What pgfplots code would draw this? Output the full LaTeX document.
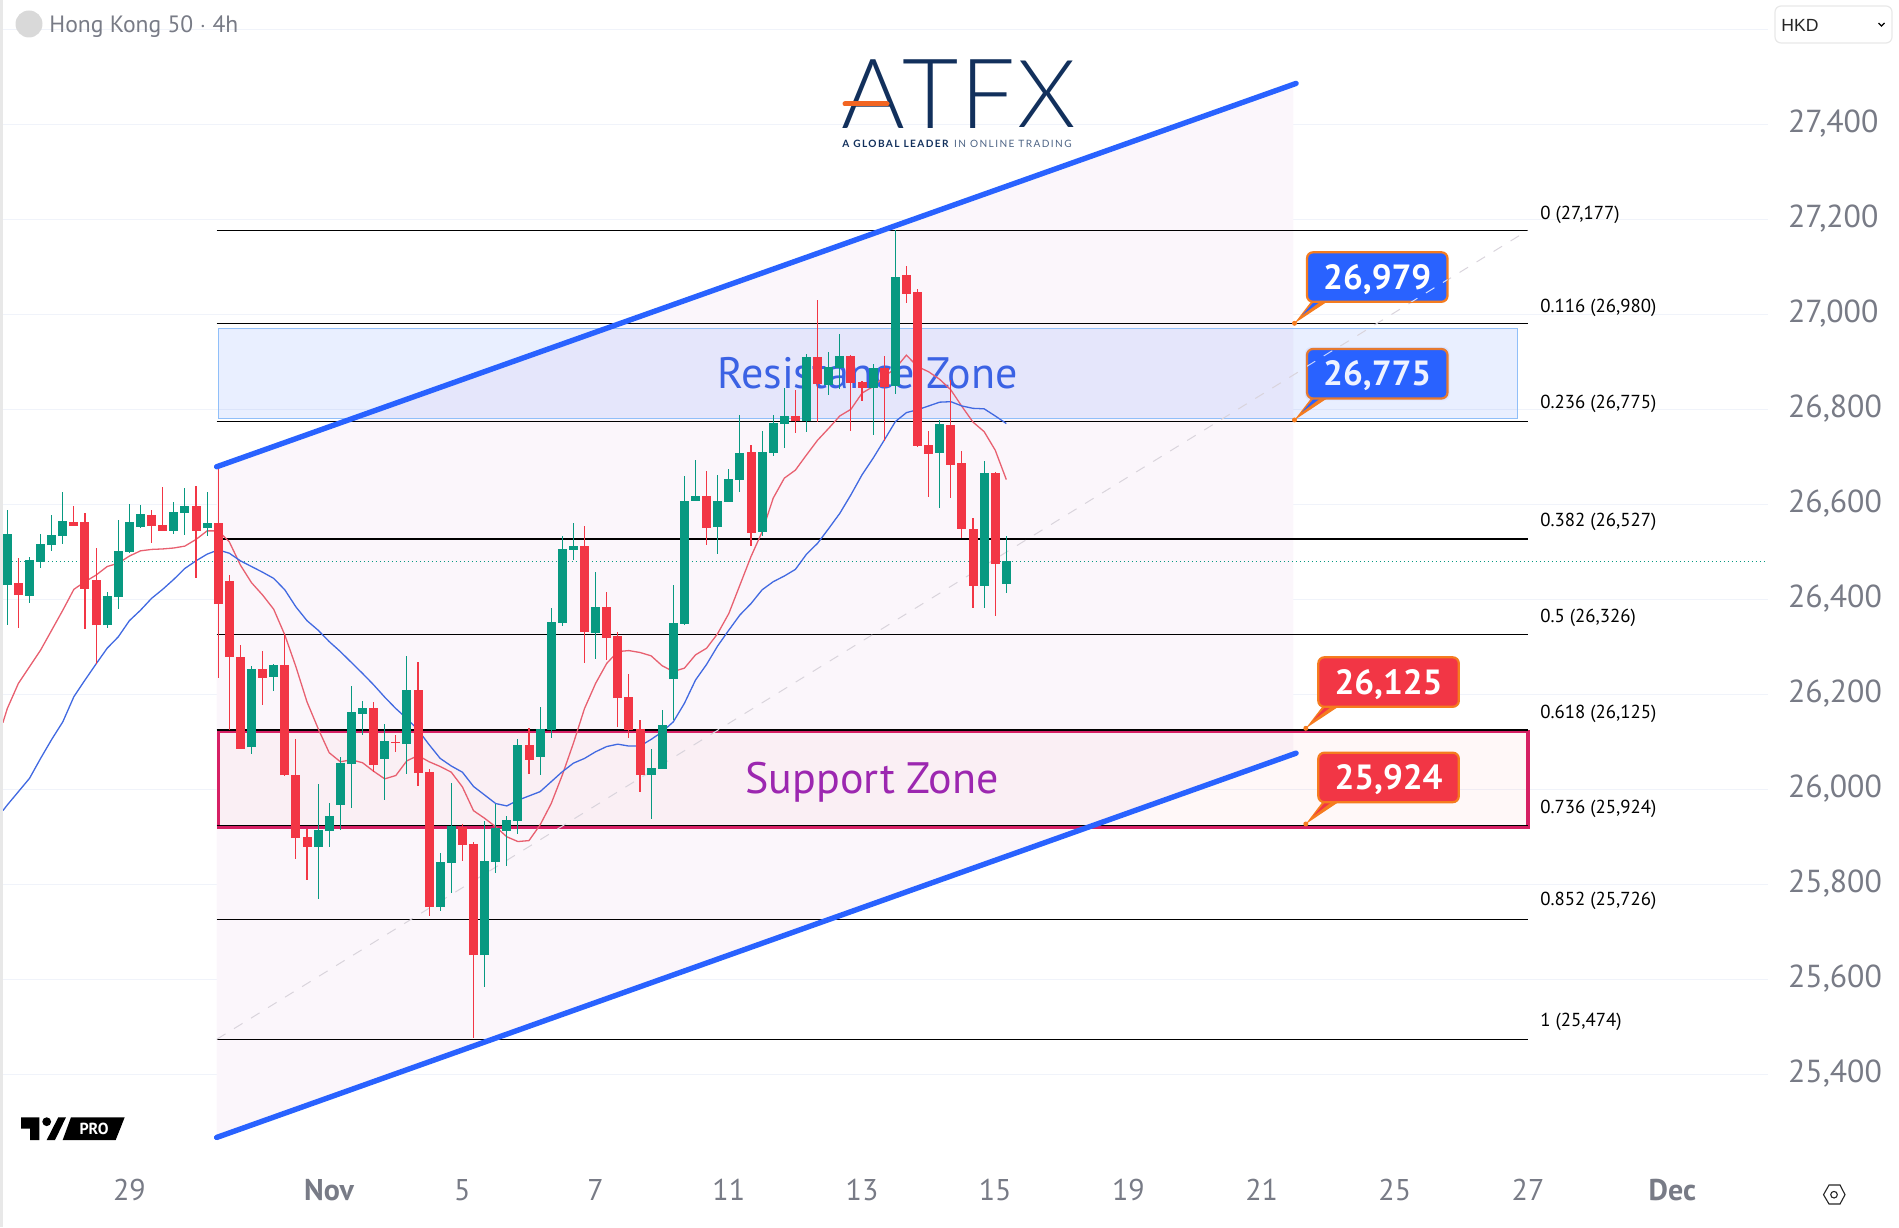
\documentclass[border=0pt]{standalone}
\usepackage{fontspec}
\usepackage{pgfplots}
\usepackage{pgfplotstable}
\pgfplotsset{compat=1.18}
\setmainfont{PT Sans}
\newfontfamily\logofont{Lato Light}
\newfontfamily\logosubfont[LetterSpace=14]{Lato}
\newfontfamily\uifont{Liberation Sans}
\definecolor{upc}{HTML}{089981}
\definecolor{downc}{HTML}{F23645}
\definecolor{gridc}{HTML}{F0F3FA}
\definecolor{txtc}{HTML}{787B86}
\definecolor{chan}{HTML}{2962FF}
\definecolor{navy}{HTML}{12305C}
\definecolor{orng}{HTML}{F57C1F}
\definecolor{logoor}{HTML}{F26522}
\definecolor{chfill}{HTML}{FBF6FB}
\definecolor{resline}{HTML}{90BFF9}
\definecolor{supline}{HTML}{D62064}
\definecolor{diag}{HTML}{D9D4DC}
\definecolor{mafastc}{HTML}{E86070}
\definecolor{maslowc}{HTML}{4169E1}
\definecolor{restxt}{HTML}{3B62E4}
\definecolor{suptxt}{HTML}{9C27B0}

\pgfplotstableread{
i o h l c
0 26430 26588 26345 26538
2 26407 26488 26393 26483
3 26479 26538 26465 26516
4 26514 26578 26502 26535
5 26533 26625 26516 26565
9 26345 26415 26340 26407
10 26405 26567 26380 26502
11 26500 26601 26498 26563
12 26552 26599 26550 26580
15 26544 26605 26538 26584
16 26582 26634 26535 26597
18 26550 26626 26533 26561
22 26088 26260 26075 26253
24 26237 26264 26206 26262
28 25879 26011 25769 25914
29 25912 25971 25879 25944
30 25967 26069 25914 26055
31 26053 26218 25961 26163
32 26159 26186 26114 26171
34 26064 26137 25977 26102
36 26095 26281 26032 26209
39 25752 25866 25744 25847
40 25845 26013 25781 25923
43 25651 25933 25584 25849
44 25847 25970 25824 25918
45 25912 25944 25839 25935
46 25933 26106 25906 26093
48 26068 26173 26030 26127
49 26125 26382 26108 26352
50 26350 26533 26344 26506
51 26504 26561 26483 26512
53 26329 26458 26274 26384
58 26030 26085 25937 26045
59 26043 26167 26043 26135
60 26232 26430 26146 26350
61 26348 26660 26346 26607
62 26607 26693 26607 26618
64 26552 26662 26495 26607
65 26605 26674 26605 26653
66 26651 26788 26626 26708
68 26542 26754 26533 26710
69 26708 26788 26702 26771
70 26769 26845 26719 26786
72 26775 26916 26752 26910
74 26851 26921 26830 26889
75 26887 26959 26843 26912
78 26845 26895 26746 26887
80 26849 27177 26832 27079
84 26708 26777 26592 26769
88 26428 26691 26382 26666
90 26432 26533 26413 26481
}\upbars

\pgfplotstableread{
i o h l c
1 26434 26486 26340 26409
6 26563 26597 26554 26554
7 26563 26582 26338 26422
8 26441 26509 26264 26345
13 26578 26588 26519 26554
14 26556 26637 26544 26544
17 26597 26639 26445 26544
19 26561 26679 26234 26390
20 26439 26451 26125 26279
21 26279 26304 26085 26085
23 26253 26291 26177 26235
25 26262 26327 26027 26030
26 26030 26106 25853 25897
27 25900 25916 25809 25879
33 26171 26184 26037 26051
35 26100 26114 26079 26097
37 26209 26268 26007 26034
38 26036 26042 25733 25752
41 25921 25927 25849 25883
42 25885 25889 25476 25651
47 26093 26129 26032 26062
52 26512 26554 26266 26331
54 26384 26415 26272 26319
55 26323 26331 26131 26192
56 26194 26243 26108 26125
57 26127 26146 25994 26030
63 26618 26670 26514 26550
67 26710 26725 26512 26540
71 26786 26841 26750 26775
73 26910 27030 26773 26853
76 26912 26914 26754 26855
77 26857 26860 26817 26845
79 26887 26912 26733 26847
81 27083 27102 27024 27043
82 27047 27053 26721 26723
83 26725 26754 26615 26706
85 26767 26862 26613 26683
86 26687 26712 26529 26548
87 26548 26571 26382 26428
89 26666 26668 26365 26474
}\downbars

\pgfplotstableread{
i v
-0.4 26140
0 26170
1 26223
2 26258
3 26293
4 26335
5 26377
6 26421
7 26437
8 26451
9 26469
10 26476
11 26491
12 26502
13 26505
14 26506
15 26508
16 26512
17 26526
18 26544
19 26544
20 26521
21 26472
22 26435
23 26409
24 26379
25 26325
26 26258
27 26184
28 26128
29 26077
30 26058
31 26062
32 26056
33 26038
34 26022
35 26029
36 26060
37 26071
38 26058
39 26048
40 26036
41 26005
42 25955
43 25939
44 25921
45 25900
46 25890
47 25892
48 25925
49 25970
50 26030
51 26097
52 26170
53 26223
54 26265
55 26290
56 26292
57 26288
58 26281
59 26260
60 26248
61 26255
62 26283
63 26297
64 26328
65 26370
66 26430
67 26490
68 26542
69 26613
70 26655
71 26672
72 26704
73 26735
74 26760
75 26786
76 26800
77 26834
78 26848
79 26869
80 26886
81 26914
82 26890
83 26879
84 26863
85 26841
86 26806
87 26773
88 26753
89 26714
90 26652
}\mafast

\pgfplotstableread{
i v
-0.4 25955
0 25967
1 25995
2 26023
3 26065
4 26105
5 26142
6 26195
7 26230
8 26264
9 26297
10 26321
11 26355
12 26377
13 26402
14 26421
15 26442
16 26465
17 26481
18 26495
19 26504
20 26497
21 26481
22 26469
23 26457
24 26444
25 26420
26 26384
27 26355
28 26335
29 26311
30 26290
31 26267
32 26244
33 26220
34 26194
35 26170
36 26149
37 26125
38 26094
39 26065
40 26049
41 26036
42 26006
43 25988
44 25970
45 25965
46 25977
47 25986
48 25995
49 26016
50 26037
51 26055
52 26065
53 26079
54 26090
55 26095
56 26091
57 26091
58 26105
59 26121
60 26142
61 26181
62 26230
63 26263
64 26302
65 26335
66 26367
67 26391
68 26420
69 26437
70 26449
71 26463
72 26495
73 26518
74 26549
75 26581
76 26620
77 26662
78 26697
79 26735
80 26774
81 26793
82 26799
83 26807
84 26815
85 26816
86 26807
87 26802
88 26801
89 26786
90 26770
}\maslow

\begin{document}
\begin{tikzpicture}
\useasboundingbox (0,0) rectangle (949.5pt,613.5pt);
\begin{axis}[
  at={(1.5pt,0pt)},anchor=south west,
  scale only axis,width=882.5pt,height=613.5pt,
  xmin=-0.387,xmax=158.62,ymin=25078.5,ymax=27661.7,
  axis line style={draw=none},
  major tick length=0pt,
  clip=false,
  scaled x ticks=false,scaled y ticks=false,
  ymajorgrids,
  grid style={gridc,line width=0.5pt},
  ytick={25400,25600,25800,26000,26200,26400,26600,26800,27000,27200,27400,27600},
  yticklabels={{25,400},{25,600},{25,800},{26,000},{26,200},{26,400},{26,600},{26,800},{27,000},{27,200},{27,400},{}},
  yticklabel pos=right,
  yticklabel style={anchor=west,xshift=6.5pt,yshift=0.3pt,font=\fontsize{15.9}{15.9}\selectfont,text=txtc},
  xtick={11,29,41,53,65,77,89,101,113,125,137,150},
  xticklabels={29,\textbf{Nov},5,7,11,13,15,19,21,25,27,\textbf{Dec}},
  xticklabel style={anchor=center,yshift=18.5pt,font=\fontsize{15}{15}\selectfont,text=txtc},
]
% channel fill
\addplot[draw=none,fill=chfill,forget plot] coordinates {(18.86,26679)(115.86,27484)(115.86,26074)(18.86,25267)} -- cycle;
% zones
\addplot[draw=resline,fill=chan,fill opacity=0.1,line width=0.5pt,forget plot] coordinates {(19,26970)(136.05,26970)(136.05,26781)(19,26781)} -- cycle;
\addplot[draw=none,fill=downc,fill opacity=0.035,forget plot] coordinates {(19.04,26122)(137,26122)(137,25920)(19.04,25920)} -- cycle;
\addplot[draw=supline,line width=1.7pt,forget plot] coordinates {(19.04,26122)(137,26122)(137,25920)(19.04,25920)} -- cycle;
% fib levels
\addplot[black,line width=0.6pt,forget plot] coordinates {(18.86,27177)(137,27177)};
\addplot[black,line width=0.6pt,forget plot] coordinates {(18.86,26980)(137,26980)};
\addplot[black,line width=0.6pt,forget plot] coordinates {(18.86,26775)(137,26775)};
\addplot[black,line width=0.6pt,forget plot] coordinates {(18.86,26527)(137,26527)};
\addplot[black,line width=0.6pt,forget plot] coordinates {(18.86,26326)(137,26326)};
\addplot[black,line width=0.6pt,forget plot] coordinates {(18.86,26125)(137,26125)};
\addplot[black,line width=0.6pt,forget plot] coordinates {(18.86,25924)(137,25924)};
\addplot[black,line width=0.6pt,forget plot] coordinates {(18.86,25726)(137,25726)};
\addplot[black,line width=0.6pt,forget plot] coordinates {(18.86,25474)(137,25474)};
% fib diagonal and last price
\addplot[draw=diag,line width=0.5pt,dash pattern=on 5pt off 5pt,forget plot] coordinates {(18.89,25474)(137,27177)};
\addplot[draw=upc,line width=0.5pt,dash pattern=on 0.6pt off 1.4pt,forget plot] coordinates {(-0.3,26480)(158.6,26480)};
% zone captions
\addplot[draw=none,forget plot] coordinates {(77.5,26875)} node[text=restxt,font=\fontsize{22}{22}\selectfont] {Resistance Zone};
\addplot[draw=none,forget plot] coordinates {(77.9,26014)} node[text=suptxt,font=\fontsize{22}{22}\selectfont] {Support Zone};
% moving averages
\addplot[draw=mafastc,line width=0.65pt,forget plot] table[x=i,y=v] {\mafast};
\addplot[draw=maslowc,line width=0.65pt,forget plot] table[x=i,y=v] {\maslow};
% candles: wicks
\addplot[draw=none,no markers,forget plot,error bars/.cd,y dir=both,y explicit,error mark=none,error bar style={draw=upc,line width=0.55pt}]
  table[x=i,y=o,y error plus expr=\thisrow{h}-\thisrow{o},y error minus expr=\thisrow{o}-\thisrow{l}] {\upbars};
\addplot[draw=none,no markers,forget plot,error bars/.cd,y dir=both,y explicit,error mark=none,error bar style={draw=downc,line width=0.55pt}]
  table[x=i,y=c,y error plus expr=\thisrow{h}-\thisrow{c},y error minus expr=\thisrow{c}-\thisrow{l}] {\downbars};
% candles: bodies
\addplot[draw=none,no markers,forget plot,error bars/.cd,y dir=plus,y explicit,error mark=none,error bar style={draw=upc,line width=4.5pt}]
  table[x=i,y=o,y error plus expr=\thisrow{c}-\thisrow{o},y error minus expr=0] {\upbars};
\addplot[draw=none,no markers,forget plot,error bars/.cd,y dir=plus,y explicit,error mark=none,error bar style={draw=downc,line width=4.5pt}]
  table[x=i,y=c,y error plus expr=\thisrow{o}-\thisrow{c},y error minus expr=0] {\downbars};
% channel lines
\addplot[draw=chan,line width=2.7pt,line cap=round,forget plot] coordinates {(18.86,26679)(116.1,27486)};
\addplot[draw=chan,line width=2.7pt,line cap=round,forget plot] coordinates {(18.86,25267)(116.1,26076)};
\end{axis}

% annotations in picture pixels
\begin{scope}[x=0.5pt,y=-0.5pt,yshift=613.5pt]
\fill[gray!18] (0,0) rectangle (3,1227);
% title
\fill[gray!30] (29,24) circle (13.5);
\node[anchor=west,text=txtc,font=\fontsize{11.8}{11.8}\selectfont,inner sep=0pt] at (49,27) {Hong Kong 50 $\cdot$ 4h};
% currency box
\draw[gray!18,line width=0.6pt,rounded corners=3pt,fill=white] (1775,6) rectangle (1892,43);
\node[anchor=west,font=\uifont\fontsize{8.8}{8.8}\selectfont,inner sep=0pt,text=black!85] at (1781,25) {HKD};
\draw[black,line width=0.6pt] (1878.5,23)--(1881.5,26)--(1884.5,23);
% gear
\draw[black!85,line width=0.55pt] (1823.5,1194.7)--(1829,1185)--(1840,1185)--(1845,1194.7)--(1840,1204)--(1829,1204)--cycle;
\draw[black!85,line width=0.55pt] (1834,1194.7) circle (3.3);
% logo
\node[text=navy,font=\logofont\fontsize{48.6}{48.6}\selectfont,inner sep=0pt,anchor=base] at (873,129) {A};
\node[text=navy,font=\logofont\fontsize{48.6}{48.6}\selectfont,inner sep=0pt,anchor=base] at (931,129) {T};
\node[text=navy,font=\logofont\fontsize{48.6}{48.6}\selectfont,inner sep=0pt,anchor=base] at (988,129) {F};
\node[text=navy,font=\logofont\fontsize{47}{47}\selectfont,inner sep=0pt,anchor=base] at (1047,128) {X};
\draw[logoor,line width=2.5pt,line cap=round] (845,104)--(887,104);
\node[anchor=west,inner sep=0pt,font=\logosubfont\fontsize{5.05}{5.05}\selectfont] at (842,143.5) {\textcolor{navy}{\textbf{A GLOBAL LEADER}} \textcolor{navy!75}{IN ONLINE TRADING}};
% TradingView mark
\fill[black] (21,1117.3)--(39.3,1117.3)--(39.3,1140)--(30,1140)--(30,1128.5)--(21,1128.5)--cycle;
\fill[black] (46.7,1121.7) circle (4.4);
\fill[black] (58.3,1117.3)--(66,1117.3)--(55,1140)--(46.7,1140)--cycle;
\fill[black] (71,1117.3)--(124.7,1117.3)--(115.7,1140)--(62.7,1140)--cycle;
\node[text=white,font=\bfseries\fontsize{8}{8}\selectfont,inner sep=0pt] at (94,1129) {PRO};
% fib labels
\foreach \yy/\lab in {214.4/{0 (27,177)},307.4/{0.116 (26,980)},404/{0.236 (26,775)},522/{0.382 (26,527)},617.4/{0.5 (26,326)},714/{0.618 (26,125)},809/{0.736 (25,924)},901/{0.852 (25,726)},1022/{1 (25,474)}}
  \node[anchor=west,inner sep=0pt,font=\fontsize{9.4}{9.4}\selectfont,text=black] at (1540,\yy) {\lab};
% callouts
\foreach \x/\ya/\tip/\col/\lab in {1307/252.3/323.3/chan/{26,979},1307/349/420/chan/{26,775},1318.3/657.3/728.3/downc/{26,125},1318.3/752.7/824/downc/{25,924}}{
  \pgfmathsetmacro{\yb}{\ya+49.5}
  \pgfmathsetmacro{\xr}{\x+140.5}
  \pgfmathsetmacro{\bl}{\x+4}
  \pgfmathsetmacro{\br}{\x+20}
  \pgfmathsetmacro{\xt}{\x-12.5}
  \pgfmathsetmacro{\xm}{(\x+\xr)/2}
  \pgfmathsetmacro{\ym}{\ya+27}
  \pgfmathsetmacro{\il}{\x+7}
  \pgfmathsetmacro{\ir}{\x+13}
  \pgfmathsetmacro{\ix}{\x-5}
  \pgfmathsetmacro{\iy}{\tip-8}
  \fill[orng] (\bl,\yb)--(\br,\yb)--(\xt,\tip)--cycle;
  \fill[\col] (\il,\yb)--(\ir,\yb)--(\ix,\iy)--cycle;
  \fill[orng] (\xt,\tip) circle (2.5);
  \draw[orng,fill=\col,line width=1.1pt,rounded corners=3pt] (\x,\ya) rectangle (\xr,\yb);
  \node[text=white,font=\bfseries\fontsize{17.5}{17.5}\selectfont,inner sep=0pt] at (\xm,\ym) {\lab};
}
% the fib diagonal and the zone tint show through the blue labels
\begin{scope}
\clip[rounded corners=3pt] (1307,252.3) rectangle (1447.5,301.8);
\draw[white!80!chan,line width=0.5pt,dash pattern=on 5pt off 5pt] (217,1038)--(1527,230.7);
\end{scope}
\begin{scope}
\clip[rounded corners=3pt] (1307,349) rectangle (1447.5,398.5);
\draw[white!80!chan,line width=0.5pt,dash pattern=on 5pt off 5pt] (217,1038)--(1527,230.7);
\end{scope}
\fill[chan,fill opacity=0.08,rounded corners=3pt] (1305,347) rectangle (1449.5,400.5);
\end{scope}
\end{tikzpicture}
\end{document}
